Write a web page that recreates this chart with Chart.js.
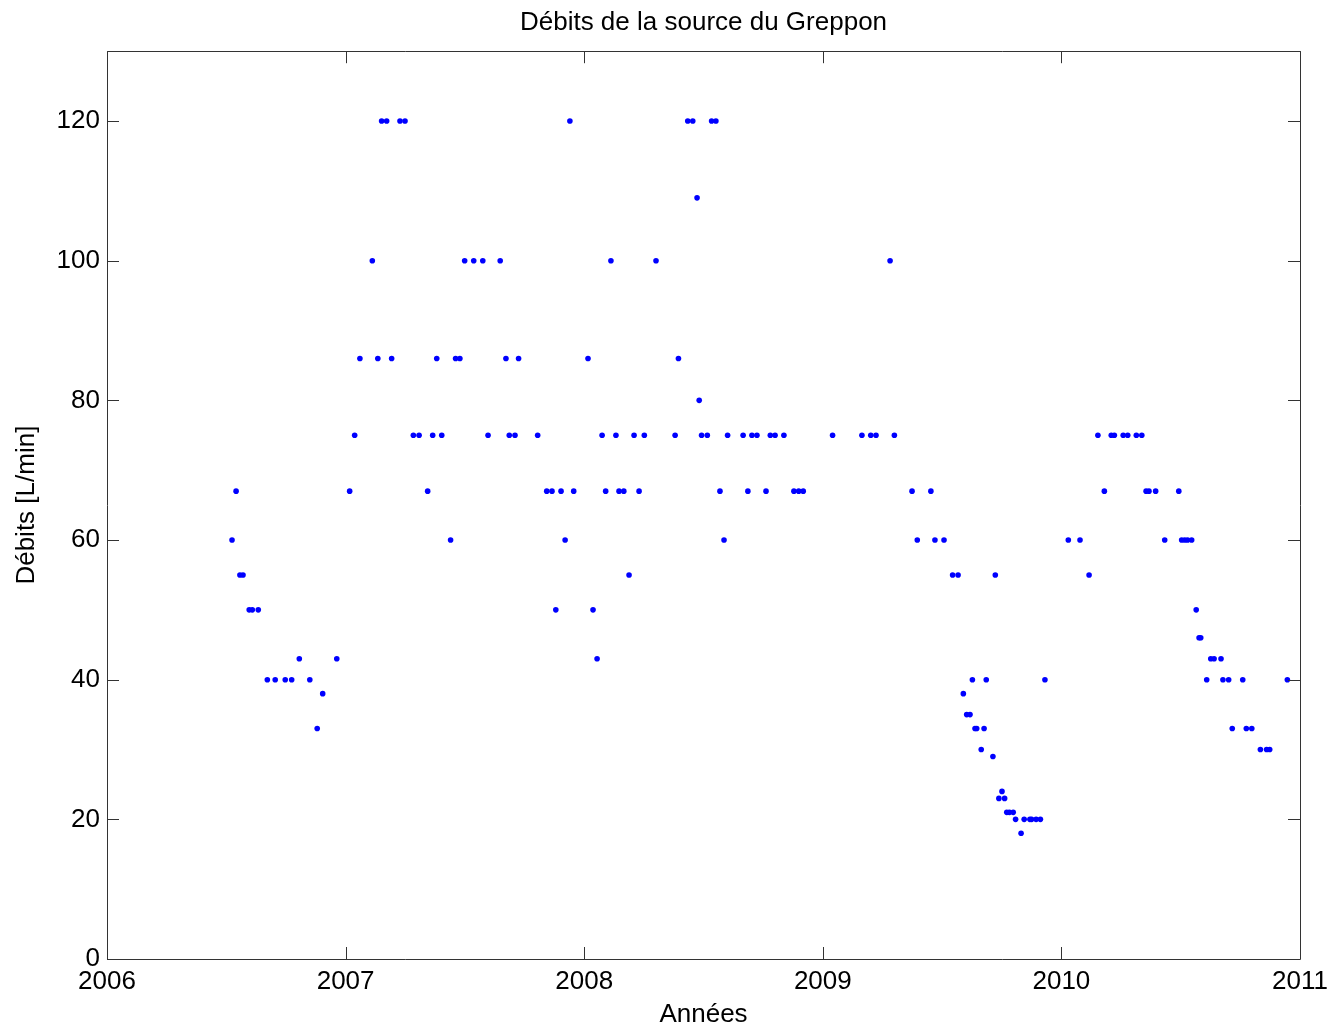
<!DOCTYPE html>
<html lang="fr">
<head>
<meta charset="utf-8">
<title>Débits de la source du Greppon</title>
<script src="https://cdn.jsdelivr.net/npm/chart.js@4.4.1/dist/chart.umd.min.js"></script>
<style>
  html, body { margin: 0; padding: 0; background: #fff; }
  #debitsChart { display: block; }
</style>
</head>
<body>
<canvas id="debitsChart" width="1333" height="1028"></canvas>
<script>
// dates des mesures (années décimales) et débits mesurés [L/min]
var annees = [
  2006.524, 2006.541, 2006.557, 2006.570, 2006.596, 2006.609, 2006.634, 2006.672,
  2006.705, 2006.747, 2006.774, 2006.806, 2006.850, 2006.881, 2006.904, 2006.963,
  2007.017, 2007.038, 2007.060, 2007.112, 2007.135, 2007.151, 2007.172, 2007.193,
  2007.228, 2007.249, 2007.284, 2007.308, 2007.344, 2007.365, 2007.382, 2007.403,
  2007.440, 2007.461, 2007.479, 2007.499, 2007.537, 2007.575, 2007.597, 2007.648,
  2007.672, 2007.686, 2007.710, 2007.725, 2007.805, 2007.843, 2007.865, 2007.881,
  2007.903, 2007.920, 2007.940, 2007.956, 2008.016, 2008.037, 2008.054, 2008.075,
  2008.090, 2008.112, 2008.133, 2008.146, 2008.166, 2008.188, 2008.209, 2008.230,
  2008.252, 2008.301, 2008.381, 2008.395, 2008.434, 2008.455, 2008.473, 2008.482,
  2008.492, 2008.516, 2008.534, 2008.552, 2008.569, 2008.586, 2008.601, 2008.666,
  2008.686, 2008.703, 2008.724, 2008.762, 2008.780, 2008.800, 2008.837, 2008.879,
  2008.899, 2008.918, 2009.041, 2009.164, 2009.201, 2009.223, 2009.282, 2009.300,
  2009.374, 2009.396, 2009.453, 2009.470, 2009.508, 2009.544, 2009.567, 2009.589,
  2009.603, 2009.617, 2009.627, 2009.638, 2009.645, 2009.664, 2009.676, 2009.685,
  2009.713, 2009.723, 2009.738, 2009.751, 2009.762, 2009.771, 2009.782, 2009.798,
  2009.808, 2009.831, 2009.844, 2009.868, 2009.875, 2009.894, 2009.912, 2009.931,
  2010.029, 2010.078, 2010.116, 2010.153, 2010.180, 2010.209, 2010.222, 2010.259,
  2010.278, 2010.314, 2010.337, 2010.355, 2010.367, 2010.395, 2010.433, 2010.492,
  2010.504, 2010.517, 2010.529, 2010.546, 2010.565, 2010.577, 2010.584, 2010.609,
  2010.626, 2010.640, 2010.669, 2010.677, 2010.701, 2010.716, 2010.760, 2010.775,
  2010.798, 2010.834, 2010.860, 2010.873, 2010.947
];
var debits = [
  60, 67, 55, 55, 50, 50, 50, 40,
  40, 40, 40, 43, 40, 33, 38, 43,
  67, 75, 86, 100, 86, 120, 120, 86,
  120, 120, 75, 75, 67, 75, 86, 75,
  60, 86, 86, 100, 100, 100, 75, 100,
  86, 75, 75, 86, 75, 67, 67, 50,
  67, 60, 120, 67, 86, 50, 43, 75,
  67, 100, 75, 67, 67, 55, 75, 67,
  75, 100, 75, 86, 120, 120, 109, 80,
  75, 75, 120, 120, 67, 60, 75, 75,
  67, 75, 75, 67, 75, 75, 75, 67,
  67, 67, 75, 75, 75, 75, 100, 75,
  67, 60, 67, 60, 60, 55, 55, 38,
  35, 35, 40, 33, 33, 30, 33, 40,
  29, 55, 23, 24, 23, 21, 21, 21,
  20, 18, 20, 20, 20, 20, 20, 40,
  60, 60, 55, 75, 67, 75, 75, 75,
  75, 75, 75, 67, 67, 67, 60, 67,
  60, 60, 60, 60, 50, 46, 46, 40,
  43, 43, 43, 40, 40, 33, 40, 33,
  33, 30, 30, 30, 40
];
var xTicks = [2006, 2007, 2008, 2009, 2010, 2011];
var yTicks = [0, 20, 40, 60, 80, 100, 120];

var points = annees.map(function (a, i) {
  return { x: a, y: debits[i] };
});

Chart.defaults.font.family = "'Liberation Sans', Arial, Helvetica, sans-serif";
Chart.defaults.font.size = 26;
Chart.defaults.color = "#000";

// cadre complet et graduations vers l'intérieur sur les quatre côtés
var cadre = {
  id: "cadre",
  afterDraw: function (chart) {
    var ctx = chart.ctx;
    var a = chart.chartArea;
    var sx = chart.scales.x;
    var sy = chart.scales.y;
    var len = 12;
    ctx.save();
    ctx.strokeStyle = "#333";
    ctx.lineWidth = 1;
    ctx.beginPath();
    ctx.rect(Math.round(a.left) + 0.5, Math.round(a.top) + 0.5,
      Math.round(a.right - a.left), Math.round(a.bottom - a.top));
    xTicks.forEach(function (v) {
      var px = Math.round(sx.getPixelForValue(v)) + 0.5;
      ctx.moveTo(px, a.bottom);
      ctx.lineTo(px, a.bottom - len);
      ctx.moveTo(px, a.top);
      ctx.lineTo(px, a.top + len);
    });
    yTicks.forEach(function (v) {
      var py = Math.round(sy.getPixelForValue(v)) + 0.5;
      ctx.moveTo(a.left, py);
      ctx.lineTo(a.left + len, py);
      ctx.moveTo(a.right, py);
      ctx.lineTo(a.right - len, py);
    });
    ctx.stroke();
    ctx.restore();
  }
};

var ctx = document.getElementById("debitsChart").getContext("2d");
var myChart = new Chart(ctx, {
  type: "scatter",
  data: {
    datasets: [
      {
        label: "Débits",
        data: points,
        backgroundColor: "#0000ff",
        borderWidth: 0,
        pointRadius: 2.8,
        pointHoverRadius: 2.8
      }
    ]
  },
  options: {
    responsive: false,
    animation: false,
    layout: { padding: { left: 0, right: 33, top: 0, bottom: 0 } },
    plugins: {
      legend: { display: false },
      tooltip: { enabled: false },
      title: {
        display: true,
        fullSize: false,
        text: "Débits de la source du Greppon",
        font: { size: 26, weight: "normal" },
        padding: { top: 7, bottom: 13 }
      }
    },
    scales: {
      x: {
        type: "linear",
        min: 2006,
        max: 2011,
        grid: { display: false, drawTicks: false },
        border: { display: false },
        ticks: {
          padding: 7,
          maxRotation: 0,
          callback: function (v) { return String(v); }
        },
        afterBuildTicks: function (scale) {
          scale.ticks = xTicks.map(function (v) { return { value: v }; });
        },
        afterFit: function (scale) {
          scale.height = 69;
          scale.paddingLeft = 0;
          scale.paddingRight = 0;
        },
        title: {
          display: true,
          text: "Années",
          font: { size: 26, lineHeight: 1 },
          padding: { top: 0, bottom: 0 }
        }
      },
      y: {
        type: "linear",
        min: 0,
        max: 130,
        grid: { display: false, drawTicks: false },
        border: { display: false },
        ticks: { padding: 7 },
        afterBuildTicks: function (scale) {
          scale.ticks = yTicks.map(function (v) { return { value: v }; });
        },
        afterFit: function (scale) {
          scale.width = 107;
          scale.paddingTop = 0;
          scale.paddingBottom = 0;
        },
        title: {
          display: true,
          text: "Débits [L/min]",
          font: { size: 26, lineHeight: 1 },
          padding: { top: 14, bottom: 0 }
        }
      }
    }
  },
  plugins: [cadre]
});
</script>
</body>
</html>
